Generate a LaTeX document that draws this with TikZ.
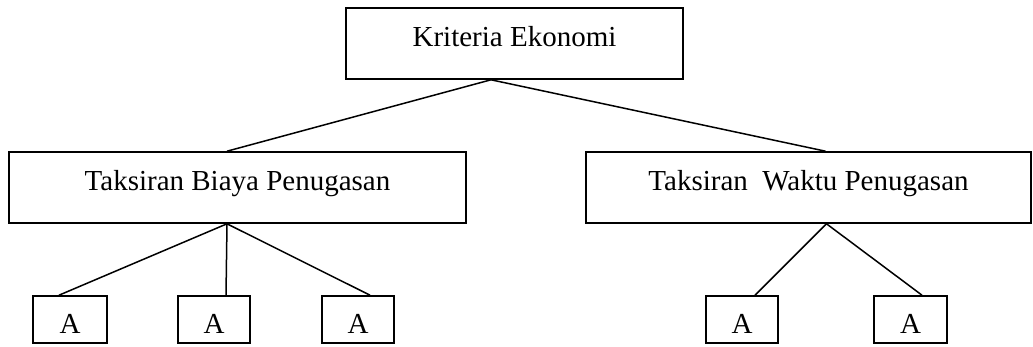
\documentclass[tikz,border=0pt]{standalone}
\usepackage{fontspec}
\setmainfont{Liberation Serif}

\begin{document}
\begin{tikzpicture}[x=1pt,y=-1pt]
		\tikzset{box/.style={draw=black, line width=1.6pt, inner sep=0pt, font=\fontsize{29}{34}\selectfont, text height=14pt, text depth=7pt, minimum height=71pt}}
		\tikzset{leaf/.style={box, text height=27pt, text depth=0pt, minimum width=72pt, minimum height=47pt}}
		\tikzset{link/.style={black, line width=1.5pt}}
		\useasboundingbox (0,0) rectangle (1033,347);
		% levels
		\node [box, minimum width=337pt] (kriteria) at (514.5,43.5) {Kriteria Ekonomi};
		\node [box, minimum width=457pt] (biaya) at (237.5,187.5) {Taksiran Biaya Penugasan};
		\node [box, minimum width=445pt] (waktu) at (808.5,187.5) {Taksiran\ \ Waktu Penugasan};
		\node [leaf, minimum width=74pt] (a1) at (70,319.5) {A};
		\node [leaf] (a2) at (214,319.5) {A};
		\node [leaf] (a3) at (358,319.5) {A};
		\node [leaf] (a4) at (742,319.5) {A};
		\node [leaf, minimum width=73pt] (a5) at (910.5,319.5) {A};
		% connectors
		\draw [link] ([xshift=-23.5pt]kriteria.south) -- ([xshift=-10.5pt]biaya.north);
		\draw [link] ([xshift=-23.5pt]kriteria.south) -- ([xshift=17pt]waktu.north);
		\draw [link] ([xshift=-10.5pt]biaya.south) -- ([xshift=-11pt]a1.north);
		\draw [link] ([xshift=-10.5pt]biaya.south) -- ([xshift=12pt]a2.north);
		\draw [link] ([xshift=-10.5pt]biaya.south) -- ([xshift=12pt]a3.north);
		\draw [link] ([xshift=18pt]waktu.south) -- ([xshift=13pt]a4.north);
		\draw [link] ([xshift=18pt]waktu.south) -- ([xshift=11.5pt]a5.north);
\end{tikzpicture}
\end{document}
